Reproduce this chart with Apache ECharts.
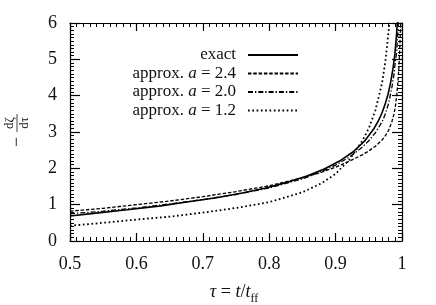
<!DOCTYPE html>
<html>
<head>
<meta charset="utf-8">
<script src="https://cdn.jsdelivr.net/npm/echarts@6/dist/echarts.min.js"></script>
<style>html,body{margin:0;padding:0;background:#fff}#c{width:436px;height:305px}</style>
</head>
<body>
<div id="c"></div>
<script>
// x tick labels
var xTicks = ['0.5', '0.6', '0.7', '0.8', '0.9', '1'];
var yTicks = ['0', '1', '2', '3', '4', '5', '6'];
var seriesNames = ['exact', 'approx. a = 2.4', 'approx. a = 2.0', 'approx. a = 1.2'];

// exact curve
var tauExact = [0.5, 0.5358, 0.5861, 0.6338, 0.6786, 0.7205, 0.7593, 0.7950, 0.8275, 0.8568,
  0.8829, 0.9060, 0.9260, 0.9432, 0.9576, 0.9639, 0.9695, 0.9745, 0.9790, 0.9828,
  0.9863, 0.9893, 0.9917, 0.9934, 0.9955];
var exact = [0.69, 0.76, 0.86, 0.96, 1.08, 1.19, 1.32, 1.46, 1.62, 1.79,
  1.98, 2.20, 2.45, 2.74, 3.09, 3.29, 3.51, 3.76, 4.04, 4.36,
  4.73, 5.15, 5.66, 6.13, 7.00];

// approximations
var tauApprox = [0.5, 0.55, 0.6, 0.65, 0.7, 0.75, 0.8, 0.85, 0.88, 0.9,
  0.92, 0.94, 0.95, 0.96, 0.97, 0.975, 0.98, 0.985, 0.988, 0.99,
  0.992, 0.994, 0.996, 0.998, 0.999];
var approxA24 = [0.82, 0.90, 1.00, 1.10, 1.22, 1.36, 1.52, 1.74, 1.90, 2.03,
  2.19, 2.37, 2.48, 2.61, 2.78, 2.90, 3.05, 3.30, 3.50, 3.70,
  4.00, 4.40, 5.00, 6.00, 6.80];
var approxA20 = [0.75, 0.82, 0.91, 1.02, 1.14, 1.28, 1.46, 1.71, 1.92, 2.09,
  2.30, 2.58, 2.76, 2.98, 3.28, 3.50, 3.80, 4.25, 4.60, 4.95,
  5.20, 5.80, 6.60];
var approxA12 = [0.42, 0.50, 0.59, 0.67, 0.78, 0.91, 1.07, 1.34, 1.60, 1.85,
  2.22, 2.75, 3.10, 3.60, 4.35, 4.95, 5.80, 7.00];

function pairs(xs, ys) { return ys.map(function (v, i) { return [xs[i], v]; }); }

var FONT = 'Liberation Serif';
var chart = echarts.init(document.getElementById('c'));

function axisCommon(extra) {
  var base = {
    type: 'value',
    axisLine: { show: true, onZero: false, lineStyle: { color: '#000', width: 1.2 } },
    splitLine: { show: false },
    minorSplitLine: { show: false }
  };
  for (var k in extra) base[k] = extra[k];
  return base;
}

var option = {
  animation: false,
  backgroundColor: '#fff',
  grid: { left: 70, right: 34, top: 23, bottom: 64, containLabel: false },
  legend: {
    orient: 'vertical',
    right: 132,
    top: 41,
    align: 'right',
    itemWidth: 50,
    itemHeight: 12,
    itemGap: 0.5,
    data: seriesNames,
    itemStyle: { opacity: 0 },
    textStyle: {
      fontFamily: FONT, fontSize: 17, color: '#111', lineHeight: 18, padding: [0, 7, 0, 0],
      rich: { i: { fontFamily: FONT, fontSize: 17, fontStyle: 'italic', color: '#111', lineHeight: 18 } }
    },
    formatter: function (name) { return name.replace(' a ', ' {i|a} '); }
  },
  xAxis: [
    axisCommon({
      min: 0.5, max: 1, interval: 0.1, position: 'bottom',
      axisTick: { show: true, inside: true, length: 8, lineStyle: { color: '#000', width: 1.2 } },
      minorTick: { show: true, splitNumber: 10, length: 4, lineStyle: { color: '#000', width: 1 } },
      axisLabel: {
        show: true, margin: 14, fontFamily: FONT, fontSize: 18, color: '#111',
        formatter: function (v) { return xTicks[Math.round((v - 0.5) * 10)]; }
      }
    }),
    axisCommon({
      min: 0.5, max: 1, interval: 0.1, position: 'top',
      axisTick: { show: true, inside: true, length: 8, lineStyle: { color: '#000', width: 1.2 } },
      minorTick: { show: true, splitNumber: 10, length: 4, lineStyle: { color: '#000', width: 1 } },
      axisLabel: { show: false }
    })
  ],
  yAxis: [
    axisCommon({
      min: 0, max: 6, interval: 1, position: 'left',
      axisTick: { show: true, inside: true, length: 10, lineStyle: { color: '#000', width: 1.2 } },
      minorTick: { show: true, splitNumber: 10, length: 4, lineStyle: { color: '#000', width: 1 } },
      axisLabel: {
        show: true, margin: 13, fontFamily: FONT, fontSize: 18, color: '#111',
        formatter: function (v) { return yTicks[Math.round(v)]; }
      }
    }),
    axisCommon({
      min: 0, max: 6, interval: 1, position: 'right',
      axisTick: { show: true, inside: true, length: 10, lineStyle: { color: '#000', width: 1.2 } },
      minorTick: { show: true, splitNumber: 10, length: 4, lineStyle: { color: '#000', width: 1 } },
      axisLabel: { show: false }
    })
  ],
  series: [
    {
      name: seriesNames[0], type: 'line', data: pairs(tauExact, exact), symbol: 'none',
      clip: true, lineStyle: { color: '#000', width: 1.6, type: 'solid' }, itemStyle: { color: '#000' }
    },
    {
      name: seriesNames[1], type: 'line', data: pairs(tauApprox, approxA24), symbol: 'none',
      clip: true, lineStyle: { color: '#000', width: 1.3, type: [3.5, 1.8] }, itemStyle: { color: '#000' }
    },
    {
      name: seriesNames[2], type: 'line', data: pairs(tauApprox, approxA20), symbol: 'none',
      clip: true, lineStyle: { color: '#000', width: 1.3, type: [5, 2, 1.3, 2] }, itemStyle: { color: '#000' }
    },
    {
      name: seriesNames[3], type: 'line', data: pairs(tauApprox, approxA12), symbol: 'none',
      clip: true, lineStyle: { color: '#000', width: 1.8, type: [1.7, 2.6] }, itemStyle: { color: '#000' }
    }
  ],
  graphic: [
    {
      type: 'group', x: 17, y: 131, rotation: Math.PI / 2,
      children: [
        { type: 'text', x: -11, y: 0, style: { text: '−', fontFamily: FONT, fontSize: 18, fill: '#111', align: 'center', verticalAlign: 'middle' } },
        { type: 'text', x: 8, y: -7, style: { text: 'd\u03B6', fontFamily: FONT, fontSize: 13, fill: '#111', align: 'center', verticalAlign: 'middle' } },
        { type: 'line', shape: { x1: -1, y1: 0, x2: 17, y2: 0 }, style: { stroke: '#111', lineWidth: 0.8 } },
        { type: 'text', x: 8, y: 7.5, style: { text: 'd\u03C4', fontFamily: FONT, fontSize: 13, fill: '#111', align: 'center', verticalAlign: 'middle' } }
      ]
    },
    {
      type: 'text', x: 234, y: 292,
      style: {
        text: '{i|\u03C4} = {i|t}/{i|t}{s|ff}',
        fontFamily: FONT, fontSize: 18, fill: '#111', align: 'center', verticalAlign: 'middle',
        rich: {
          i: { fontFamily: FONT, fontSize: 18, fontStyle: 'italic', fill: '#111', lineHeight: 18 },
          s: { fontFamily: FONT, fontSize: 12, fill: '#111', verticalAlign: 'bottom', lineHeight: 26 }
        }
      }
    }
  ]
};
chart.setOption(option);
</script>
</body>
</html>
